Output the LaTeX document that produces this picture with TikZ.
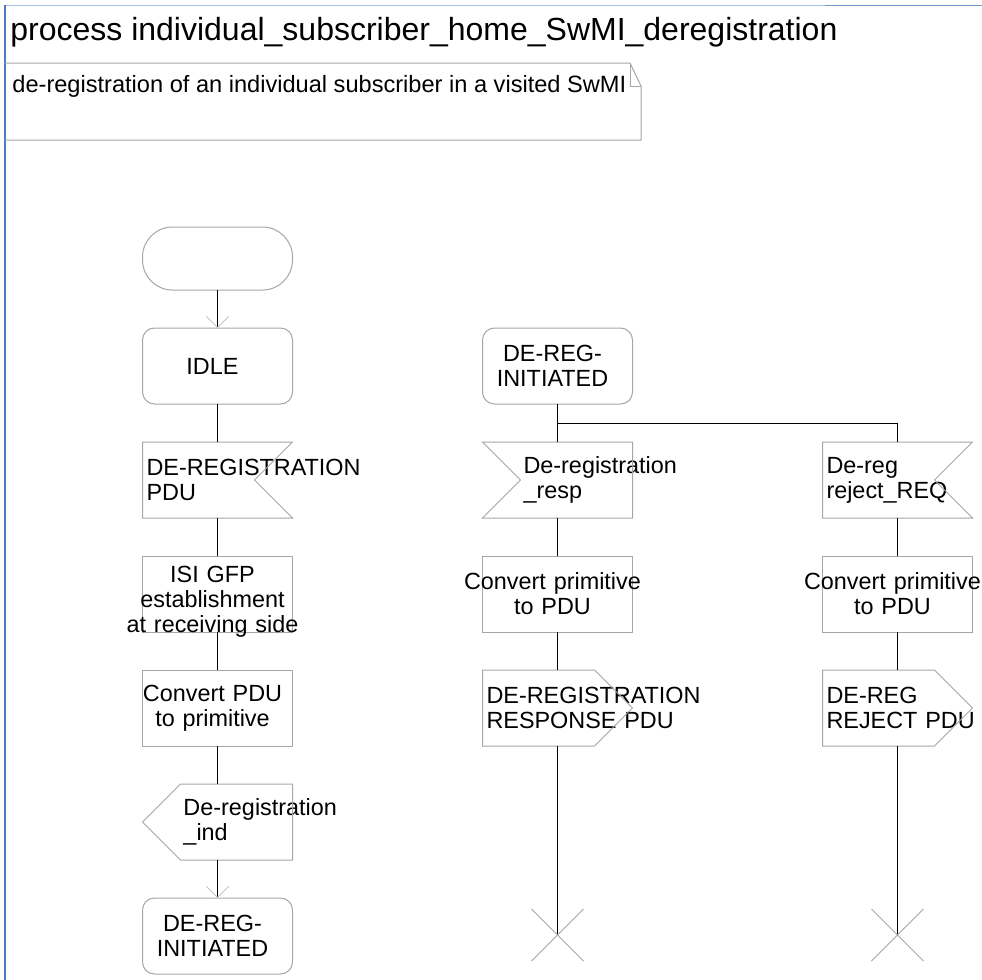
\documentclass[tikz,border=0pt]{standalone}
\usepackage{fontspec}
\setmainfont{Liberation Sans}
\usetikzlibrary{arrows.meta,positioning,calc}
\definecolor{framelt}{HTML}{A9C4E8}
\definecolor{framedk}{HTML}{4A7EBB}
\definecolor{symgray}{HTML}{A6A6A6}
\definecolor{tipgray}{HTML}{C4C4C4}
\exhyphenpenalty=10000
\hyphenpenalty=10000
\tikzset{
  sym/.style={rectangle,minimum width=75pt,minimum height=38pt,outer sep=0pt,
              inner sep=0pt,font=\fontsize{11.7}{12.5}\selectfont},
  txtl/.style={sym,text width=71pt,align=left},
  notchl/.style={txtl,execute at begin node={\leftskip=18.5pt}},
  txtc/.style={sym,draw=symgray,line width=0.5pt,text width=95pt,inner xsep=-10pt,
               align=center,
               execute at begin node={\leftskip=0pt plus 1fil\rightskip=5pt plus 1fil
                                      \parfillskip=0pt}},
  task/.style={txtc},
  state/.style={txtc,rounded corners=6pt},
  startsym/.style={sym,minimum height=31.5pt,draw=symgray,line width=0.5pt,
                   rounded corners=15pt},
  outl/.style={draw=symgray,line width=0.5pt},
  flow/.style={draw=black,line width=0.5pt},
  arr/.style={flow,-{Straight Barb[length=5.5pt,width=11pt,color=tipgray,line width=0.4pt]}},
}
\begin{document}
\begin{tikzpicture}[x=0.5pt,y=-0.5pt,node distance=19pt and 95pt]
  \useasboundingbox (0,0) rectangle (982,980);
  % frame and heading
  \draw[framelt,line width=0.5pt] (5,5) -- (825,5);
  \draw[framedk!80,line width=0.5pt] (825,5) -- (982,5);
  \draw[framedk,line width=1pt] (5,5) -- (5,980);
  \node[anchor=base west,inner sep=0pt,font=\fontsize{16}{18}\selectfont] (title) at (10,40)
    {process individual\_subscriber\_home\_SwMI\_deregistration};
  \draw[outl] (5,63) -- (630,63) -- (641,86) -- (641,140) -- (5,140);
  \draw[outl] (630,63) -- (630,86) -- (641,86);
  \node[anchor=base west,inner sep=0pt,font=\fontsize{11.8}{13}\selectfont] (note) at (12,92)
    {de-registration of an individual subscriber in a visited SwMI};

  % left column
  \node[state] (idle) at (217.5,366) {IDLE};
  \node[startsym, above=of idle] (start) {};
  \node[txtl, below=of idle] (dreg) {DE-REGISTRATION\\PDU};
  \node[task, text depth=20pt, below=of dreg] (isi) {ISI GFP\\establishment\\at~receiving~side};
  \node[task, below=of isi] (cpdu) {Convert~PDU\\to~primitive};
  \node[notchl, below=of cpdu] (ind) {De-registration\\\_ind};
  \node[state, below=of ind] (init2) {DE-REG-\\INITIATED};

  % middle column
  \node[state, right=of idle] (init1) {DE-REG-\\INITIATED};
  \node[notchl, below=of init1] (resp) {De-registration\\\_resp};
  \node[task, below=of resp] (cprim1) {Convert~primitive\\to~PDU};
  \node[txtl, below=of cprim1] (rsppdu) {DE-REGISTRATION\\RESPONSE~PDU};

  % right column
  \node[txtl, right=of resp] (rej) {De-reg\\reject\_REQ};
  \node[task, below=of rej] (cprim2) {Convert~primitive\\to~PDU};
  \node[txtl, below=of cprim2] (rejpdu) {DE-REG\\REJECT~PDU};

  % input symbols
  \foreach \n in {dreg,rej}
    \draw[outl] (\n.north west) -- (\n.north east) -- ($(\n.east)+(-38,0)$)
      -- (\n.south east) -- (\n.south west) -- cycle;
  \draw[outl] (resp.north west) -- (resp.north east) -- (resp.south east)
    -- (resp.south west) -- ($(resp.west)+(38,0)$) -- cycle;
  % output symbols
  \foreach \n in {rsppdu,rejpdu}
    \draw[outl] (\n.north west) -- ($(\n.north east)+(-38,0)$) -- (\n.east)
      -- ($(\n.south east)+(-38,0)$) -- (\n.south west) -- cycle;
  \draw[outl] (ind.west) -- ($(ind.north west)+(38,0)$) -- (ind.north east)
    -- (ind.south east) -- ($(ind.south west)+(38,0)$) -- cycle;

  % flow lines
  \draw[arr] (start) -- (idle);
  \draw[flow] (idle) -- (dreg);
  \draw[flow] (dreg) -- (isi);
  \draw[flow] (isi) -- (cpdu);
  \draw[flow] (cpdu) -- (ind);
  \draw[arr] (ind) -- (init2);

  \draw[flow] (init1) -- (resp);
  \coordinate (br) at ($(init1.south)!0.5!(resp.north)$);
  \draw[flow] (br) -| (rej);
  \draw[flow] (resp) -- (cprim1);
  \draw[flow] (cprim1) -- (rsppdu);
  \draw[flow] (rej) -- (cprim2);
  \draw[flow] (cprim2) -- (rejpdu);

  % stops
  \coordinate (stop1) at ($(rsppdu.south)+(0,189)$);
  \coordinate (stop2) at ($(rejpdu.south)+(0,189)$);
  \draw[flow] (rsppdu) -- (stop1);
  \draw[flow] (rejpdu) -- (stop2);
  \foreach \s in {stop1,stop2}
    \draw[outl] ($(\s)+(-26,-26)$) -- ($(\s)+(26,26)$)
      ($(\s)+(-26,26)$) -- ($(\s)+(26,-26)$);
\end{tikzpicture}
\end{document}
